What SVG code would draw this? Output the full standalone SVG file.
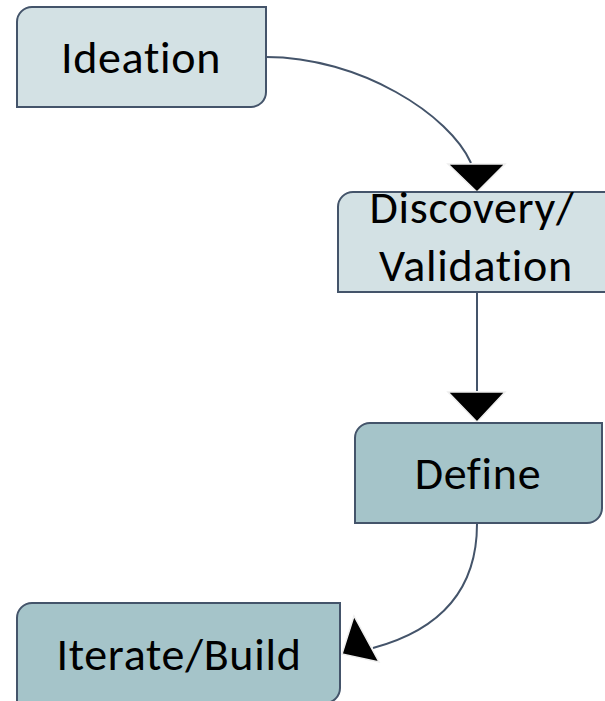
<svg xmlns="http://www.w3.org/2000/svg" width="605" height="701" viewBox="0 0 605 701">
  <style>
    .box { stroke: #44546a; stroke-width: 2; }
    .light { fill: #d3e1e4; }
    .dark { fill: #a5c4c9; }
    .label { font-family: Carlito, Lato, "Liberation Sans", sans-serif; font-size: 46px; letter-spacing: 0.7px; font-variant-ligatures: none; fill: #000; text-anchor: middle; }
    .wire { fill: none; stroke: #44546a; stroke-width: 2; }
    .head { fill: #000; stroke: #eeeeee; stroke-width: 1.5; stroke-linejoin: miter; }
  </style>
  <rect width="605" height="701" fill="#ffffff"/>

  <g id="connectors">
    <path class="wire" d="M266,57 C360,57 450,115 471,163"/>
    <polygon class="head" points="448,164 505,164 477,192"/>
    <path class="wire" d="M477,292 V391"/>
    <polygon class="head" points="448,392 505,392 477,422"/>
    <path class="wire" d="M477,524 C477,590 440,630 373,648"/>
    <polygon class="head" points="342,654 354,616 379,662"/>
  </g>

  <g id="ideation">
    <path class="box light" d="M32,7 H266 V92 A15,15 0 0 1 251,107 H17 V22 A15,15 0 0 1 32,7 Z"/>
    <text class="label" x="141" y="73">Ideation</text>
  </g>

  <g id="discovery">
    <path class="box light" d="M353,192 H612 V292 H338 V207 A15,15 0 0 1 353,192 Z"/>
    <text class="label" x="472" y="223">Discovery/</text>
    <text class="label" x="476" y="281">Validation</text>
  </g>

  <g id="define">
    <path class="box dark" d="M370,423 H602 V508 A15,15 0 0 1 587,523 H355 V438 A15,15 0 0 1 370,423 Z"/>
    <text class="label" x="478" y="489">Define</text>
  </g>

  <g id="iterate">
    <path class="box dark" d="M32,603 H340 V688 A15,15 0 0 1 325,703 H17 V618 A15,15 0 0 1 32,603 Z"/>
    <text class="label" x="179" y="670">Iterate/Build</text>
  </g>
</svg>
